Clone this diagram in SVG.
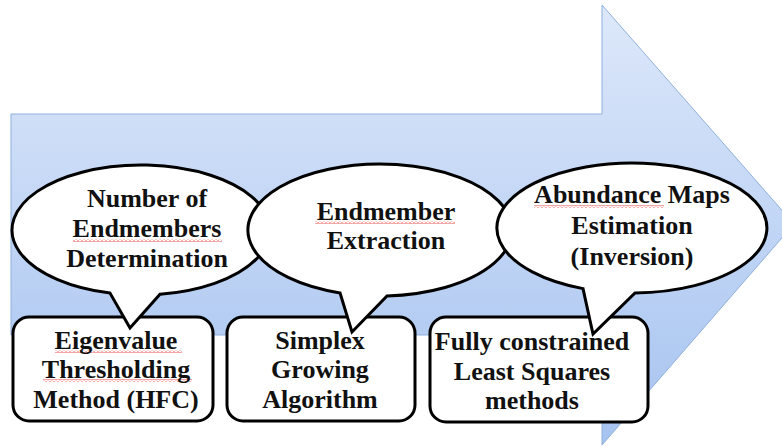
<svg xmlns="http://www.w3.org/2000/svg" width="782" height="447" viewBox="0 0 782 447">
<defs>
<linearGradient id="g" gradientUnits="userSpaceOnUse" x1="0" y1="5" x2="0" y2="445">
<stop offset="0" stop-color="#dde8fa"/>
<stop offset="1" stop-color="#a6c3f0"/>
</linearGradient>
<pattern id="wave" patternUnits="userSpaceOnUse" width="4" height="3">
<polyline points="0,2.5 2,0.5 4,2.5" fill="none" stroke="#e02020" stroke-width="0.8"/>
</pattern>
<style>
.box{fill:#fff;stroke:#000;stroke-width:3}
.call{fill:#fff;stroke:#000;stroke-width:3;stroke-linejoin:miter}
.t{font-weight:bold;font-size:26px;fill:#111;text-anchor:middle}
.w{fill:url(#wave)}
</style>
</defs>
<rect width="782" height="447" fill="#fff"/>
<g id="arrow">
<polygon points="11,114 602,114 602,5 794,224 602,445 602,335 11,335" fill="url(#g)" stroke="#8fb0dc" stroke-width="1"/>
</g>
<g id="box1"><rect class="box" x="13" y="317" width="200" height="104" rx="16"/></g>
<g id="box2"><rect class="box" x="227" y="317" width="188" height="104" rx="16"/></g>
<g id="box3"><rect class="box" x="430" y="317" width="218" height="105" rx="16"/></g>
<g id="callout1"><path class="call" d="M160 294.3 A129 65 0 1 0 110 293.1 L130 328 Z"/></g>
<g id="callout2"><path class="call" d="M387 295.9 A132 66 0 1 0 340 292.9 L352 332 Z"/></g>
<g id="callout3"><path class="call" d="M635 293 A135 65 0 1 0 583 288.6 L593 334 Z"/></g>
<g id="labels" font-family="Liberation Serif, Times New Roman, DejaVu Serif, serif">
<rect class="w" x="73" y="239" width="149" height="3"/>
<rect class="w" x="315" y="221" width="140" height="3"/>
<rect class="w" x="534" y="205" width="130" height="3"/>
<rect class="w" x="55" y="350" width="127" height="3"/>
<rect class="w" x="43" y="379" width="149" height="3"/>
<text class="t" x="147" y="207">Number of</text>
<text class="t" x="147" y="237">Endmembers</text>
<text class="t" x="147" y="267">Determination</text>
<text class="t" x="386" y="220">Endmember</text>
<text class="t" x="386" y="249">Extraction</text>
<text class="t" x="632" y="203">Abundance Maps</text>
<text class="t" x="632" y="234">Estimation</text>
<text class="t" x="632" y="265">(Inversion)</text>
<text class="t" x="116" y="349">Eigenvalue</text>
<text class="t" x="116" y="378">Thresholding</text>
<text class="t" x="116" y="408">Method (HFC)</text>
<text class="t" x="320" y="349">Simplex</text>
<text class="t" x="320" y="378">Growing</text>
<text class="t" x="320" y="408">Algorithm</text>
<text class="t" x="532" y="350">Fully constrained</text>
<text class="t" x="532" y="380">Least Squares</text>
<text class="t" x="532" y="409">methods</text>
</g>
</svg>
